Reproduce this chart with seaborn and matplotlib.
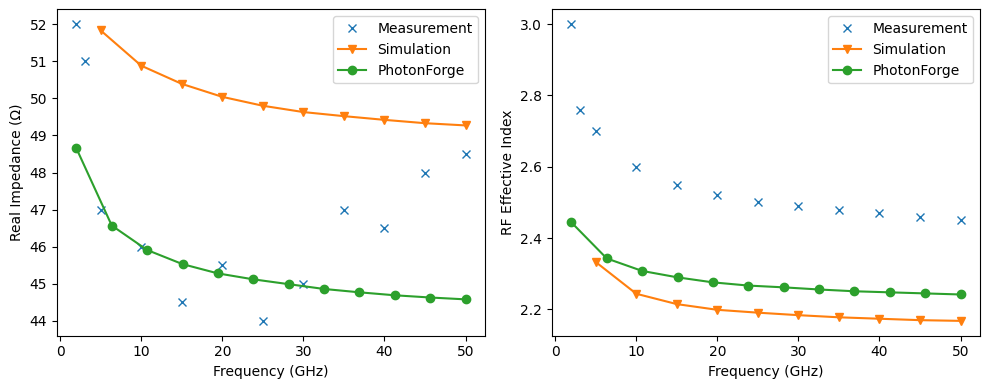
import matplotlib
matplotlib.use("Agg")
import matplotlib.pyplot as plt
import seaborn as sns

# measured frequencies (GHz)
meas_freq = [2, 3, 5, 10, 15, 20, 25, 30, 35, 40, 45, 50]
meas_z = [52.0, 51.0, 47.0, 46.0, 44.5, 45.5, 44.0, 45.0, 47.0, 46.5, 48.0, 48.5]
meas_n = [3.0, 2.76, 2.70, 2.60, 2.55, 2.52, 2.50, 2.49, 2.48, 2.47, 2.46, 2.45]

sim_freq = [5, 10, 15, 20, 25, 30, 35, 40, 45, 50]
sim_z = [51.83, 50.88, 50.39, 50.04, 49.80, 49.63, 49.52, 49.42, 49.33, 49.27]
sim_n = [2.333, 2.244, 2.215, 2.199, 2.191, 2.184, 2.178, 2.174, 2.170, 2.168]

pf_freq = [2.0, 6.36, 10.73, 15.09, 19.45, 23.82, 28.18, 32.55, 36.91, 41.27, 45.64, 50.0]
pf_z = [48.65, 46.57, 45.91, 45.53, 45.28, 45.12, 44.99, 44.86, 44.77, 44.69, 44.63, 44.58]
pf_n = [2.444, 2.343, 2.308, 2.290, 2.276, 2.267, 2.262, 2.256, 2.251, 2.248, 2.245, 2.242]

colors = sns.color_palette("tab10")


def draw(ax, y_meas, y_sim, y_pf, ylabel):
    sns.lineplot(x=meas_freq, y=y_meas, ax=ax, label="Measurement", color=colors[0],
                 linestyle="", marker="x", markersize=6,
                 markeredgecolor=colors[0], markeredgewidth=1)
    sns.lineplot(x=sim_freq, y=y_sim, ax=ax, label="Simulation", color=colors[1],
                 marker="v", markersize=6, linewidth=1.5,
                 markeredgecolor=colors[1], markeredgewidth=1)
    sns.lineplot(x=pf_freq, y=y_pf, ax=ax, label="PhotonForge", color=colors[2],
                 marker="o", markersize=6, linewidth=1.5,
                 markeredgecolor=colors[2], markeredgewidth=1)
    ax.set_xlabel("Frequency (GHz)")
    ax.set_ylabel(ylabel)
    ax.legend(loc="upper right")


fig, axes = plt.subplots(1, 2, figsize=(9.89, 3.89), dpi=100)
draw(axes[0], meas_z, sim_z, pf_z, "Real Impedance (Ω)")
draw(axes[1], meas_n, sim_n, pf_n, "RF Effective Index")

fig.subplots_adjust(left=0.0576, right=0.9909, top=0.976, bottom=0.137, wspace=0.1565)
plt.savefig("out.png")
